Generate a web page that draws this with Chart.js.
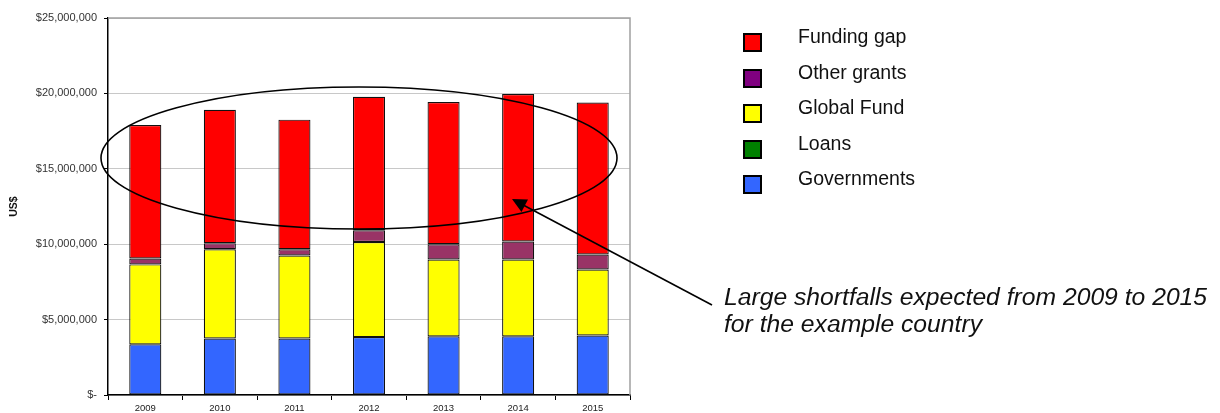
<!DOCTYPE html>
<html>
<head>
<meta charset="utf-8">
<script src="https://cdn.jsdelivr.net/npm/chart.js@4.4.1/dist/chart.umd.min.js"></script>
<style>
    body { margin: 0; background: #fff; font-family: "Liberation Sans", Arial, sans-serif; }
    #wrap { position: relative; width: 1220px; height: 413px; overflow: hidden; }
    #legend { position: absolute; left: 743px; top: 0; }
    .box { position: absolute; left: 0; width: 19px; height: 19px; border: 2px solid #000; box-sizing: border-box; }
    .lbl { position: absolute; left: 55px; font-size: 19.5px; color: #111; line-height: 20px; white-space: nowrap; }
    #note { position: absolute; left: 724px; top: 283px; font-style: italic; font-size: 24.7px; line-height: 27px; color: #111; white-space: nowrap; }
</style>
</head>
<body>
<div id="wrap">
    <canvas id="funding" width="1220" height="413"></canvas>
    <div id="legend"></div>
    <div id="note">Large shortfalls expected from 2009 to 2015<br>for the example country</div>
</div>
<script>
// data (US$)
const years = ['2009', '2010', '2011', '2012', '2013', '2014', '2015'];
const governments = [3360000, 3750000, 3750000, 3840000, 3890000, 3890000, 3950000];
const loans = [0, 0, 0, 0, 0, 0, 0];
const globalFund = [5300000, 5920000, 5500000, 6310000, 5100000, 5100000, 4370000];
const otherGrants = [390000, 400000, 420000, 780000, 1010000, 1190000, 1000000];
const fundingGap = [8850000, 8850000, 8590000, 8850000, 9430000, 9780000, 10080000];
const yTicks = [0, 5000000, 10000000, 15000000, 20000000, 25000000];

// legend entries, top to bottom
const legendItems = [
    { label: 'Funding gap', color: '#ff0000' },
    { label: 'Other grants', color: '#800080' },
    { label: 'Global Fund', color: '#ffff00' },
    { label: 'Loans', color: '#008000' },
    { label: 'Governments', color: '#3366ff' }
];

function buildLegend() {
    const el = document.getElementById('legend');
    legendItems.forEach((item, i) => {
        const step = i * 35.5;
        const box = document.createElement('div');
        box.className = 'box';
        box.style.top = (33 + step) + 'px';
        box.style.background = item.color;
        const lbl = document.createElement('div');
        lbl.className = 'lbl';
        lbl.style.top = (26 + step) + 'px';
        lbl.textContent = item.label;
        el.appendChild(box);
        el.appendChild(lbl);
    });
}

function fmtMoney(v) {
    if (v === 0) return '$-';
    return '$' + v.toLocaleString('en-US');
}

// ellipse, arrow and plot frame
const overlay = {
    id: 'overlay',
    afterDraw(chart) {
        const { ctx, chartArea } = chart;
        ctx.save();
        // right and top frame
        ctx.strokeStyle = '#a0a0a0';
        ctx.lineWidth = 1.5;
        ctx.beginPath();
        ctx.moveTo(chartArea.left, chartArea.top);
        ctx.lineTo(chartArea.right, chartArea.top);
        ctx.lineTo(chartArea.right, chartArea.bottom);
        ctx.stroke();

        ctx.strokeStyle = '#000';
        ctx.lineWidth = 1.6;
        ctx.beginPath();
        ctx.ellipse(359, 158, 258, 71, 0, 0, Math.PI * 2);
        ctx.stroke();

        // arrow
        const x0 = 712, y0 = 305, x1 = 512, y1 = 199;
        const ang = Math.atan2(y1 - y0, x1 - x0);
        ctx.beginPath();
        ctx.moveTo(x0, y0);
        ctx.lineTo(x1 - Math.cos(ang) * 10, y1 - Math.sin(ang) * 10);
        ctx.stroke();
        ctx.fillStyle = '#000';
        ctx.beginPath();
        ctx.moveTo(x1, y1);
        ctx.lineTo(x1 - Math.cos(ang - 0.45) * 16, y1 - Math.sin(ang - 0.45) * 16);
        ctx.lineTo(x1 - Math.cos(ang + 0.45) * 16, y1 - Math.sin(ang + 0.45) * 16);
        ctx.closePath();
        ctx.fill();
        ctx.restore();
    }
};

document.addEventListener('DOMContentLoaded', () => {
    buildLegend();
    initChart();
});

function initChart() {
    const ctx = document.getElementById('funding').getContext('2d');
    const bar = (label, data, color) => ({
        label, data,
        backgroundColor: color,
        borderColor: '#111',
        borderWidth: 1.2,
        borderSkipped: false,
        barPercentage: 0.43,
        categoryPercentage: 1
    });
    new Chart(ctx, {
        type: 'bar',
        data: {
            labels: years,
            datasets: [
                bar('Governments', governments, '#3366ff'),
                bar('Loans', loans, '#008000'),
                bar('Global Fund', globalFund, '#ffff00'),
                bar('Other grants', otherGrants, '#993366'),
                bar('Funding gap', fundingGap, '#ff0000')
            ]
        },
        options: {
            responsive: false,
            animation: false,
            layout: { padding: { left: 0, top: 18, right: 590, bottom: 0 } },
            plugins: {
                legend: { display: false },
                tooltip: { enabled: false }
            },
            scales: {
                x: {
                    stacked: true,
                    offset: true,
                    grid: { offset: true, drawOnChartArea: false, drawTicks: true, tickLength: 5, color: '#000' },
                    border: { color: '#000', width: 1.5 },
                    ticks: { color: '#222', font: { family: 'Liberation Sans', size: 9.5 }, padding: 3 },
                    afterFit: (s) => { s.height = 18; }
                },
                y: {
                    stacked: true,
                    min: 0,
                    max: 25000000,
                    afterBuildTicks: (s) => { s.ticks = yTicks.map(v => ({ value: v })); },
                    grid: { color: '#c8c8c8', lineWidth: 1, tickLength: 4, tickColor: '#000' },
                    border: { color: '#000', width: 1.5 },
                    ticks: {
                        color: '#333',
                        font: { family: 'Liberation Sans', size: 11 },
                        padding: 7,
                        callback: (v) => fmtMoney(v)
                    },
                    title: {
                        display: true,
                        text: 'US$',
                        color: '#111',
                        font: { family: 'Liberation Sans', size: 10.5, weight: 'bold' },
                        padding: { top: 8, bottom: 0 }
                    },
                    afterFit: (s) => { s.width = 108; }
                }
            }
        },
        plugins: [overlay]
    });
}
</script>
</body>
</html>
